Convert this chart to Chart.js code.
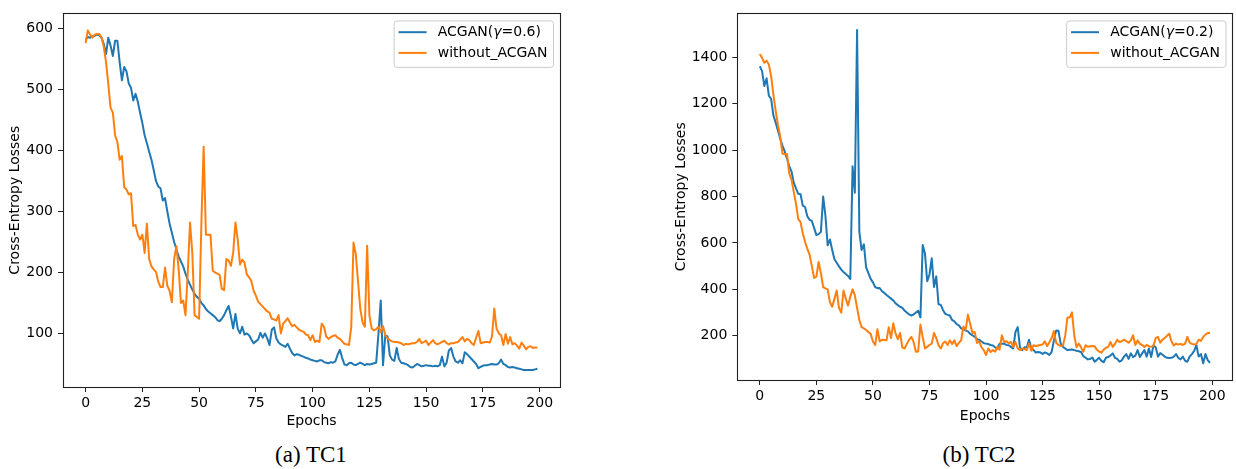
<!DOCTYPE html>
<html>
<head>
<meta charset="utf-8">
<script src="https://cdn.jsdelivr.net/npm/chart.js@4.4.1/dist/chart.umd.min.js"></script>
<style>
  html, body { margin: 0; padding: 0; background: #fff; }
  body { width: 1236px; height: 469px; position: relative; overflow: hidden; }
  canvas { position: absolute; top: 0; }
  #tc1 { left: 0; }
  #tc2 { left: 660px; }
  .caption {
    position: absolute; top: 442px; transform: translateX(-50%);
    font-family: "Liberation Serif", "Times New Roman", serif; font-size: 23px;
    color: #000; white-space: nowrap;
  }
</style>
</head>
<body>
<canvas id="tc1" width="600" height="440"></canvas>
<canvas id="tc2" width="576" height="440"></canvas>
<div class="caption" style="left:311px">(a) TC1</div>
<div class="caption" style="left:979px">(b) TC2</div>

<script>
// Cross-entropy loss per epoch, test case TC1
const tc1Acgan = [
  582, 586, 585, 587, 588, 590, 589, 585, 575, 558,
  585, 572, 555, 580, 580, 545, 515, 537, 530, 510,
  503, 482, 493, 480, 462, 445, 425, 412, 398, 385,
  368, 350, 341, 338, 318, 322, 300, 280, 265, 250,
  238, 226, 218, 210, 198, 188, 180, 172, 165, 160,
  157, 150, 146, 140, 136, 133, 130, 127, 122, 120,
  124, 130, 138, 145, 128, 108, 132, 108, 100, 111,
  98, 100, 97, 90, 84, 87, 90, 101, 93, 100,
  92, 81, 106, 110, 92, 85, 82, 80, 78, 83,
  75, 68, 64, 66, 65, 63, 62, 60, 59, 57,
  56, 55, 54, 56, 56, 53, 52, 51, 53, 52,
  54, 65, 73, 60, 49, 48, 51, 52, 49, 48,
  50, 52, 50, 48, 50, 49, 50, 51, 52, 100,
  154, 48, 97, 95, 64, 57, 55, 76, 58, 52,
  51, 50, 48, 45, 44, 47, 50, 48, 46, 47,
  48, 47, 47, 46, 47, 46, 48, 62, 46, 52,
  72, 76, 62, 54, 52, 56, 51, 69, 66, 62,
  58, 54, 50, 43, 45, 47, 48, 48, 49, 50,
  49, 49, 51, 57, 50, 48, 45, 44, 45, 44,
  43, 42, 41, 40, 40, 40, 40, 40, 41, 42
];
const tc1Baseline = [
  576, 597, 590, 585, 590, 591, 591, 586, 570, 545,
  509, 470, 462, 425, 414, 385, 391, 340, 336, 328,
  330, 276, 278, 262, 254, 262, 232, 280, 222, 210,
  205, 201, 185, 176, 176, 208, 178, 170, 151, 222,
  243, 205, 150, 154, 130, 200, 282, 232, 130, 127,
  124, 281, 406, 262, 262, 262, 203, 200, 198, 196,
  173, 171, 222, 220, 211, 232, 282, 254, 213, 221,
  216, 197, 192, 186, 170, 162, 152, 148, 144, 140,
  136, 134, 124, 123, 121, 130, 100, 116, 120, 125,
  118, 112, 114, 110, 106, 104, 103, 98, 97, 89,
  97, 86, 88, 86, 116, 111, 95, 91, 94, 96,
  97, 93, 91, 87, 83, 82, 81, 110, 249, 230,
  185, 140, 118, 111, 244, 130, 108, 105, 107, 111,
  102, 112, 97, 92, 89, 87, 86, 86, 85, 84,
  81, 83, 82, 83, 84, 84, 86, 91, 84, 86,
  88, 81, 85, 89, 84, 82, 84, 86, 88, 84,
  82, 84, 84, 85, 86, 90, 94, 87, 91, 89,
  84, 81, 93, 104, 84, 85, 86, 86, 85, 95,
  141, 108, 100, 97, 81, 99, 83, 94, 82, 84,
  80, 75, 85, 80, 74, 78, 79, 76, 77, 77
];

// Cross-entropy loss per epoch, test case TC2
const tc2Acgan = [
  1362, 1341, 1277, 1310, 1235, 1221, 1150, 1120, 1085, 1050,
  1020, 995, 965, 931, 909, 860, 835, 812, 810, 761,
  755, 715, 700, 695, 665, 634, 638, 648, 800, 718,
  590, 615, 570, 530, 515, 499, 485, 475, 466, 458,
  445, 931, 817, 1518, 648, 570, 594, 495, 470, 445,
  430, 410, 405, 406, 392, 385, 376, 368, 360, 352,
  340, 332, 325, 320, 308, 300, 292, 287, 292, 300,
  308, 279, 591, 555, 435, 464, 534, 410, 456, 336,
  333, 310, 294, 290, 287, 268, 262, 250, 245, 232,
  228, 222, 219, 208, 202, 195, 185, 182, 175, 168,
  166, 164, 160, 158, 150, 145, 166, 165, 166, 160,
  159, 152, 145, 216, 237, 150, 138, 150, 148, 183,
  145, 138, 128, 130, 128, 121, 128, 124, 117, 130,
  180, 223, 222, 166, 152, 145, 138, 140, 141, 138,
  135, 133, 130, 112, 105, 98, 100, 106, 88, 96,
  105, 92, 86, 105, 108, 115, 124, 105, 100, 88,
  94, 110, 121, 100, 124, 108, 114, 138, 108, 124,
  138, 110, 145, 108, 159, 150, 110, 125, 118, 110,
  105, 104, 105, 110, 121, 104, 98, 110, 92, 88,
  110, 121, 135, 159, 110, 121, 81, 121, 95, 83
];
const tc2Baseline = [
  1415, 1398, 1377, 1386, 1369, 1320, 1240, 1170, 1110, 1060,
  985, 984, 984, 900, 874, 820, 770, 704, 690, 642,
  605, 575, 550, 500, 449, 455, 518, 470, 410, 404,
  400, 345, 325, 360, 395, 320, 300, 395, 360, 330,
  368, 400, 375, 320, 268, 237, 232, 225, 216, 208,
  175, 160, 228, 175, 183, 182, 180, 237, 190, 254,
  210, 185, 212, 150, 145, 165, 183, 195, 172, 131,
  132, 248, 195, 145, 152, 160, 166, 212, 190, 159,
  145, 168, 175, 160, 180, 165, 180, 155, 170, 180,
  240, 225, 291, 251, 212, 216, 169, 175, 150, 138,
  117, 145, 130, 138, 131, 152, 140, 202, 173, 176,
  168, 173, 152, 173, 145, 138, 145, 142, 138, 166,
  135, 159, 156, 158, 160, 162, 176, 155, 172, 190,
  220, 170, 160, 156, 158, 200, 279, 279, 301, 202,
  150, 166, 150, 131, 159, 152, 155, 156, 155, 140,
  132, 127, 140, 148, 152, 173, 152, 165, 183, 173,
  176, 183, 177, 170, 180, 202, 160, 180, 165, 160,
  152, 160, 155, 152, 156, 190, 195, 170, 183, 190,
  200, 209, 175, 158, 166, 162, 165, 160, 166, 195,
  170, 165, 162, 165, 183, 178, 195, 205, 212, 212
];

// Axis tick labels
const epochTicks = [0, 25, 50, 75, 100, 125, 150, 175, 200];
const tc1LossTicks = [100, 200, 300, 400, 500, 600];
const tc2LossTicks = [200, 400, 600, 800, 1000, 1200, 1400];

// Series names
const tc1Names = ['ACGAN(γ=0.6)', 'without_ACGAN'];
const tc2Names = ['ACGAN(γ=0.2)', 'without_ACGAN'];

const epochs = tc1Acgan.map((_, i) => i);

const BLUE = '#1f77b4';
const ORANGE = '#ff7f0e';
const FONT_FAMILY = '"DejaVu Sans", Verdana, sans-serif';
const FONT_SIZE = 14;

Chart.defaults.color = '#000';
Chart.defaults.font.family = FONT_FAMILY;
Chart.defaults.font.size = FONT_SIZE;

// pyplot-style 5% margin around the data range
function paddedRange(values) {
  const lo = Math.min(...values), hi = Math.max(...values);
  const m = (hi - lo) * 0.05;
  return [lo - m, hi + m];
}

// Axes frame on all four sides
const axesFrame = {
  id: 'axesFrame',
  afterDatasetsDraw(chart) {
    const { ctx, chartArea: a } = chart;
    ctx.save();
    ctx.strokeStyle = '#222';
    ctx.lineWidth = 1.1;
    ctx.strokeRect(Math.round(a.left) + 0.5, Math.round(a.top) + 0.5,
      Math.round(a.right - a.left), Math.round(a.bottom - a.top));
    ctx.restore();
  }
};

// Draws a label, setting the Greek gamma in oblique like math text
function drawLabel(ctx, text, x, y, measureOnly) {
  const parts = text.split('γ');
  let cx = x;
  parts.forEach((p, i) => {
    ctx.font = `${FONT_SIZE}px ${FONT_FAMILY}`;
    if (!measureOnly) ctx.fillText(p, cx, y);
    cx += ctx.measureText(p).width;
    if (i < parts.length - 1) {
      ctx.font = `oblique ${FONT_SIZE}px ${FONT_FAMILY}`;
      if (!measureOnly) ctx.fillText('γ', cx, y);
      cx += ctx.measureText('γ').width;
    }
  });
  return cx - x;
}

// Framed legend in the upper right corner of the axes
const framedLegend = {
  id: 'framedLegend',
  afterDatasetsDraw(chart) {
    const { ctx, chartArea: a } = chart;
    const sets = chart.data.datasets;
    ctx.save();
    ctx.textBaseline = 'middle';
    ctx.textAlign = 'left';
    const textW = Math.max(...sets.map(ds => drawLabel(ctx, ds.label, 0, 0, true)));
    const right = a.right - 7;
    const top = a.top + 7;
    const left = right - (44.2 + textW + 5.6);
    const h = 46.5;
    ctx.beginPath();
    ctx.roundRect(left + 0.5, top + 0.5, right - left, h, 3);
    ctx.fillStyle = 'rgba(255,255,255,0.8)';
    ctx.fill();
    ctx.strokeStyle = '#cccccc';
    ctx.lineWidth = 1;
    ctx.stroke();
    sets.forEach((ds, i) => {
      const y = top + 11.8 + i * 20.7;
      ctx.beginPath();
      ctx.moveTo(left + 5, y);
      ctx.lineTo(left + 33, y);
      ctx.strokeStyle = ds.borderColor;
      ctx.lineWidth = 2;
      ctx.stroke();
      ctx.fillStyle = '#000';
      drawLabel(ctx, ds.label, left + 44.2, y, false);
    });
    ctx.restore();
  }
};

function tickGrid() {
  return {
    drawOnChartArea: false, drawTicks: true, tickLength: 5,
    tickWidth: 1, tickColor: '#222', lineWidth: 1
  };
}

function buildChart(id, cfg) {
  const [xMin, xMax] = paddedRange(epochs);
  const [yMin, yMax] = paddedRange(cfg.series[0].concat(cfg.series[1]));
  return new Chart(document.getElementById(id), {
    type: 'line',
    data: {
      labels: epochs,
      datasets: [
        { label: cfg.names[0], data: cfg.series[0], borderColor: BLUE, backgroundColor: BLUE,
          borderWidth: 2, pointRadius: 0, tension: 0, borderJoinStyle: 'round', order: 1 },
        { label: cfg.names[1], data: cfg.series[1], borderColor: ORANGE, backgroundColor: ORANGE,
          borderWidth: 2, pointRadius: 0, tension: 0, borderJoinStyle: 'round', order: 0 }
      ]
    },
    options: {
      responsive: false,
      animation: false,
      events: [],
      layout: { padding: cfg.padding },
      plugins: { legend: { display: false }, tooltip: { enabled: false } },
      scales: {
        x: {
          type: 'linear', min: xMin, max: xMax,
          afterBuildTicks: s => { s.ticks = epochTicks.map(v => ({ value: v })); },
          afterFit: s => { s.height = cfg.xAxisHeight; },
          grid: tickGrid(),
          border: { display: false },
          ticks: { padding: 3, maxRotation: 0, autoSkip: false, color: '#000',
                   callback: v => String(v) },
          title: { display: true, text: 'Epochs', color: '#000', padding: { top: 4, bottom: 4 } }
        },
        y: {
          type: 'linear', min: yMin, max: yMax,
          afterBuildTicks: s => { s.ticks = cfg.yTicks.map(v => ({ value: v })); },
          afterFit: s => { s.width = cfg.yAxisWidth; },
          grid: tickGrid(),
          border: { display: false },
          ticks: { padding: 5, color: '#000', callback: v => String(v) },
          title: { display: true, text: 'Cross-Entropy Losses', color: '#000',
                   padding: { top: cfg.yTitlePad, bottom: 0 } }
        }
      }
    },
    plugins: [axesFrame, framedLegend]
  });
}

buildChart('tc1', {
  names: tc1Names,
  series: [tc1Acgan, tc1Baseline],
  yTicks: tc1LossTicks,
  padding: { left: 0, top: 9, right: 40, bottom: 5.9 },
  xAxisHeight: 47.1,
  yAxisWidth: 63,
  yTitlePad: 6.6
});

buildChart('tc2', {
  names: tc2Names,
  series: [tc2Acgan, tc2Baseline],
  yTicks: tc2LossTicks,
  padding: { left: 0, top: 7.3, right: 3.5, bottom: 11.6 },
  xAxisHeight: 48.4,
  yAxisWidth: 77.3,
  yTitlePad: 12.6
});
</script>
</body>
</html>
